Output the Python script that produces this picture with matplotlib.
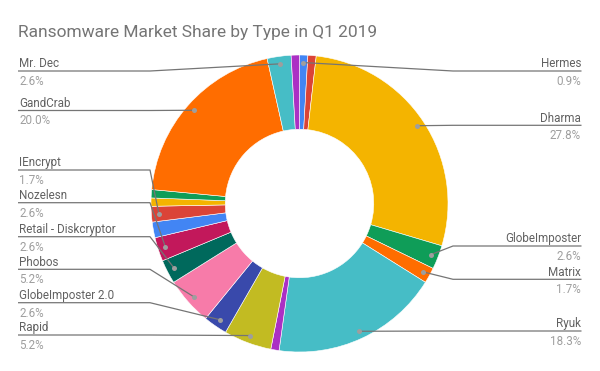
import numpy as np
import matplotlib.pyplot as plt

plt.rcParams['font.family'] = ['Roboto', 'DejaVu Sans']

# slices clockwise from 12 o'clock, '' = slice that has no label on the chart
names = ['Hermes', '', 'Dharma', 'GlobeImposter', 'Matrix', 'Ryuk', '', 'Rapid',
         'GlobeImposter 2.0', 'Phobos', 'Retail - Diskcryptor', 'Nozelesn', '',
         'IEncrypt', '', '', 'GandCrab', 'Mr. Dec', '']
shares = [0.9, 0.9, 27.8, 2.6, 1.7, 18.3, 0.9, 5.2,
          2.6, 5.2, 2.6, 2.6, 1.7,
          1.7, 0.9, 0.9, 20.0, 2.6, 0.9]

palette = ['#4285f4', '#db4437', '#f4b400', '#0f9d58', '#ff6d00', '#46bdc6',
           '#ab30c4', '#c2bb22', '#3949ab', '#f77ba9', '#00695c', '#c2185b']
colors = [palette[i % len(palette)] for i in range(len(shares))]

# label placement (pixel rows of the leader line under each name)
left_rows = {'Mr. Dec': 71, 'GandCrab': 110.5, 'IEncrypt': 170, 'Nozelesn': 202.7,
             'Retail - Diskcryptor': 236.7, 'Phobos': 269.3,
             'GlobeImposter 2.0': 302.7, 'Rapid': 335}
right_rows = {'Hermes': 71, 'Dharma': 125.3, 'GlobeImposter': 246,
              'Matrix': 279.3, 'Ryuk': 331}

W, H = 600, 371
cx, cy = 299.5, 203.5   # page pixels, y down
R = 148.5

fig = plt.figure(figsize=(6, 3.71), dpi=100)
ax = fig.add_axes([0, 0, 1, 1])

def py(y):
    return H - y

ax.pie(shares, colors=colors, startangle=90, counterclock=False,
       center=(cx, py(cy)), radius=R,
       wedgeprops=dict(width=R * 0.5, edgecolor='white', linewidth=0.4))
ax.set_xlim(0, W)
ax.set_ylim(0, H)
ax.set_aspect('equal')
ax.axis('off')

name_col = '#616161'
pct_col = '#9e9e9e'
line_col = '#757575'
fs = 8.4

cum = np.cumsum(shares)
r_dot = 141
for i, name in enumerate(names):
    if name == '':
        continue
    mid = np.deg2rad(360 * (cum[i] - shares[i] / 2) / 100)
    dx = cx + r_dot * np.sin(mid)
    dy = cy - r_dot * np.cos(mid)
    pct = '%.1f%%' % shares[i]
    if name in left_rows:
        row = left_rows[name]
        xs = [18, 150, dx]
        ha, tx = 'left', 19
    else:
        row = right_rows[name]
        xs = [581.5, 453, dx]
        ha, tx = 'right', 581
    ax.plot(xs, [py(row), py(row), py(dy)], color=line_col, lw=0.9,
            solid_capstyle='butt', zorder=3)
    ax.plot(dx, py(dy), 'o', color='#9e9e9e', ms=3.6, mec='none', zorder=4)
    ax.text(tx, py(row - 3.8), name, ha=ha, va='baseline', fontsize=fs, color=name_col)
    ax.text(tx, py(row + 14), pct, ha=ha, va='baseline', fontsize=fs, color=pct_col)

fig.text(17.5 / W, 1 - 37.3 / H, 'Ransomware Market Share by Type in Q1 2019',
         ha='left', va='baseline', fontsize=12.5, color='#757575')

plt.savefig('out.png', dpi=100, facecolor='white')
